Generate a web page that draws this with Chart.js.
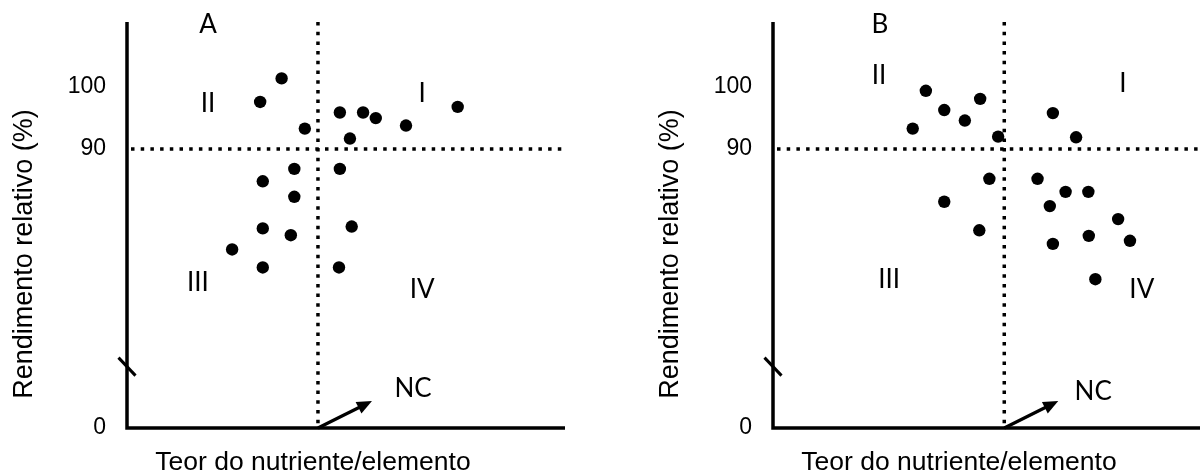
<!DOCTYPE html>
<html><head><meta charset="utf-8">
<script src="https://cdn.jsdelivr.net/npm/chart.js@4.4.1/dist/chart.umd.min.js"></script>
<style>
html,body{margin:0;padding:0;background:#fff;width:1200px;height:475px;overflow:hidden}
#wrapA{position:absolute;left:0;top:0;width:600px;height:475px;overflow:hidden}
#wrapB{position:absolute;left:600px;top:0;width:600px;height:475px;overflow:hidden}
canvas{display:block}
</style></head><body>
<div id="wrapA"><canvas id="cA" width="600" height="475"></canvas></div>
<div id="wrapB"><canvas id="cB" width="640" height="475"></canvas></div>
<script>
// ---- data ----
const xA = [35.3, 30.4, 40.6, 48.6, 53.9, 56.8, 63.7, 75.5, 50.9, 38.2, 48.6, 31.0, 38.2, 31.0, 37.4, 51.3, 24.0, 31.0, 48.4];
const yA = [101.4, 97.6, 93.3, 95.9, 95.9, 95.0, 93.8, 96.8, 91.7, 86.8, 86.8, 84.8, 82.3, 77.2, 76.1, 77.5, 73.8, 70.9, 70.9];
const xB = [34.9, 39.1, 43.8, 47.3, 31.9, 51.4, 63.9, 69.2, 49.4, 60.4, 66.8, 72.0, 63.2, 39.1, 78.8, 47.1, 72.1, 63.9, 81.5, 73.6];
const yB = [99.4, 96.3, 94.6, 98.1, 93.3, 92.0, 95.8, 91.9, 85.2, 85.2, 83.1, 83.1, 80.8, 81.5, 78.7, 76.9, 76.0, 74.7, 75.2, 69.0];
const criticalA = 43.6;
const criticalB = 52.8;
const sufficiencyY = 90;
// broken y axis: the bottom value is shown as "0"
const yTickValues = [45, 90, 100];
const yTickLabels = ['0', '90', '100'];
const yMin = 45, yMax = 110.5, xMin = 0, xMax = 100;
const yBreakValue = 54.9;
const quadrantNames = ['I', 'II', 'III', 'IV'];
const yTitle = 'Rendimento relativo (%)';
const xTitle = 'Teor do nutriente/elemento';
const ncLabel = 'NC';

// ---- label placement (layout, in axis units) ----
const placeA = {letter: [18.5, 110.0], I: [67.4, 99.0], II: [18.5, 97.4], III: [16.2, 68.5], IV: [67.4, 67.25], NC: [65.3, 51.4]};
const placeB = {letter: [24.4, 110.0], I: [79.9, 100.5], II: [24.2, 101.9], III: [26.5, 68.9], IV: [84.2, 67.4], NC: [73.1, 50.8]};

const panelPlugin = {
  id: 'panel',
  beforeDatasetsDraw(chart, args, opts) {
    const {ctx, chartArea: a, scales: {x, y}} = chart;
    const cx = x.getPixelForValue(opts.critical);
    const hy = y.getPixelForValue(sufficiencyY);
    ctx.save();
    ctx.strokeStyle = '#000';
    ctx.lineWidth = 3.5;
    ctx.setLineDash([3.5, 6.2]);
    ctx.beginPath(); ctx.moveTo(a.left + 4, hy); ctx.lineTo(a.right, hy); ctx.stroke();
    ctx.beginPath(); ctx.moveTo(cx, a.top); ctx.lineTo(cx, a.bottom); ctx.stroke();
    ctx.setLineDash([]);
    ctx.lineJoin = 'miter';
    ctx.beginPath(); ctx.moveTo(a.left, a.top); ctx.lineTo(a.left, a.bottom); ctx.lineTo(a.right, a.bottom); ctx.stroke();
    ctx.restore();
  },
  afterDraw(chart, args, opts) {
    const {ctx, chartArea: a, scales: {x, y}} = chart;
    const p = opts.place;
    ctx.save();
    ctx.fillStyle = '#000';
    ctx.strokeStyle = '#000';
    // axis break mark
    const by = y.getPixelForValue(yBreakValue);
    ctx.lineWidth = 3;
    ctx.beginPath(); ctx.moveTo(a.left - 8.5, by - 9); ctx.lineTo(a.left + 8.5, by + 9); ctx.stroke();
    // NC arrow
    const sx = x.getPixelForValue(opts.critical), sy = a.bottom;
    const tx = sx + 54, ty = sy - 27;
    const ang = Math.atan2(ty - sy, tx - sx);
    const dx = Math.cos(ang), dy = Math.sin(ang);
    ctx.lineWidth = 3.2;
    ctx.beginPath(); ctx.moveTo(sx, sy); ctx.lineTo(tx - 10 * dx, ty - 10 * dy); ctx.stroke();
    ctx.beginPath();
    ctx.moveTo(tx, ty);
    ctx.lineTo(tx - 15 * dx - 6.5 * dy, ty - 15 * dy + 6.5 * dx);
    ctx.lineTo(tx - 15 * dx + 6.5 * dy, ty - 15 * dy - 6.5 * dx);
    ctx.closePath(); ctx.fill();
    // panel letter, quadrant names, NC
    ctx.textAlign = 'center';
    ctx.textBaseline = 'middle';
    ctx.font = '26px Lato';
    const put = (t, pos) => ctx.fillText(t, x.getPixelForValue(pos[0]), y.getPixelForValue(pos[1]));
    put(opts.letter, p.letter);
    quadrantNames.forEach(q => put(q, p[q]));
    put(ncLabel, p.NC);
    // axis titles
    ctx.font = '26.5px "Liberation Sans", Arial, sans-serif';
    ctx.fillText(xTitle, a.left + 186, 463);
    ctx.font = '27px "Liberation Sans", Arial, sans-serif';
    ctx.translate(a.left - 102, 254);
    ctx.rotate(-Math.PI / 2);
    ctx.fillText(yTitle, 0, 0);
    ctx.restore();
  }
};

function makePanel(id, xs, ys, critical, place, letter, padRight, axisW) {
  return new Chart(document.getElementById(id), {
    type: 'scatter',
    data: {datasets: [{
      data: xs.map((v, i) => ({x: v, y: ys[i]})),
      backgroundColor: '#000', borderColor: '#000', borderWidth: 0,
      pointRadius: 6.2, pointHoverRadius: 6.2
    }]},
    options: {
      responsive: false, animation: false, events: [],
      layout: {padding: {left: 0, right: padRight, top: 22, bottom: 47}},
      plugins: {legend: {display: false}, tooltip: {enabled: false},
        panel: {critical: critical, place: place, letter: letter}},
      scales: {
        x: {type: 'linear', min: xMin, max: xMax, display: false},
        y: {type: 'linear', min: yMin, max: yMax, position: 'left',
          afterFit: s => { s.width = axisW; s.paddingTop = 0; s.paddingBottom = 0; },
          afterBuildTicks: s => { s.ticks = yTickValues.map(v => ({value: v})); },
          grid: {display: false, drawTicks: false}, border: {display: false},
          ticks: {padding: 21, color: '#000', autoSkip: false,
            font: {family: '"Liberation Sans", Arial, sans-serif', size: 23},
            callback: v => { const i = yTickValues.indexOf(v); return i >= 0 ? yTickLabels[i] : ''; }}
        }
      }
    },
    plugins: [panelPlugin]
  });
}

makePanel('cA', xA, yA, criticalA, placeA, 'A', 35, 127);
makePanel('cB', xB, yB, criticalB, placeB, 'B', 29, 173);
</script>
</body></html>
